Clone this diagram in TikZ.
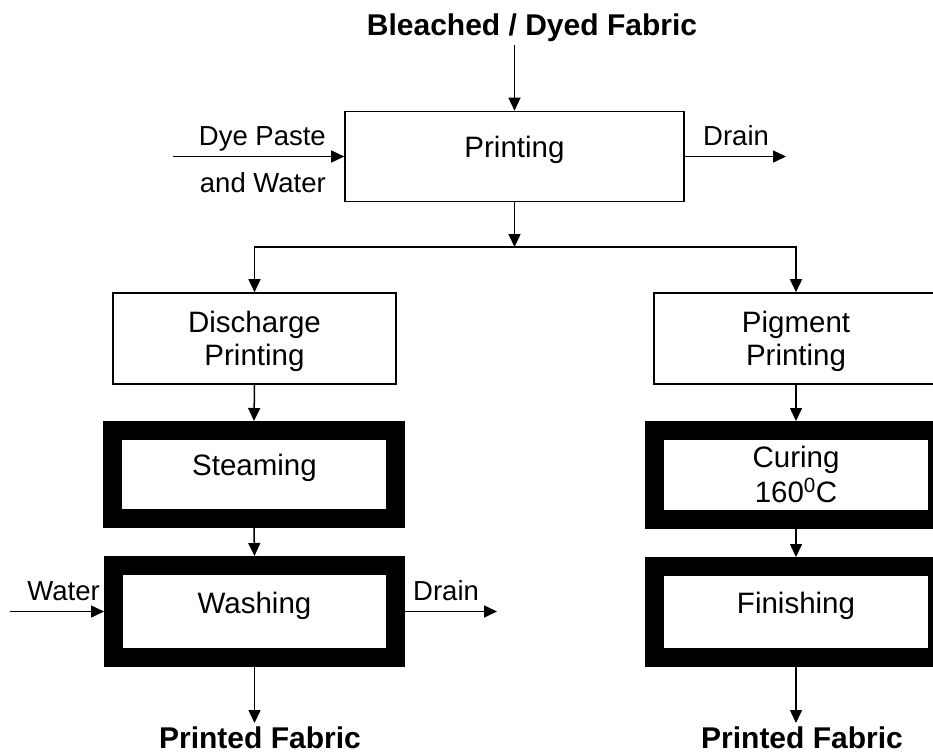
\documentclass[tikz,border=0pt]{standalone}
\usepackage{fontspec}
\setmainfont{Liberation Sans}
\usetikzlibrary{arrows.meta}

\begin{document}
\begin{tikzpicture}[x=1pt,y=-1pt,
  flow/.style={line width=1.5pt,-{Triangle[length=13pt,width=12pt]}},
  thinbox/.style={draw,line width=1.6pt,inner sep=0pt},
  heavybox/.style={draw,line width=19pt,inner sep=0pt},
  boxtext/.style={font=\fontsize{29.5}{33}\selectfont,anchor=base,inner sep=0pt},
  sidetext/.style={font=\fontsize{27.5}{31}\selectfont,inner sep=0pt},
  headtext/.style={font=\fontsize{30}{34}\selectfont\bfseries,anchor=base,inner sep=0pt}]
\useasboundingbox (0,0) rectangle (933,755);
\clip (0,0) rectangle (933,755);

% process boxes
\node[thinbox,minimum width=339pt,minimum height=90pt] (print) at (514.5,156.5) {};
\node[thinbox,minimum width=283pt,minimum height=91pt] (disch) at (254.5,338.5) {};
\node[thinbox,minimum width=320pt,minimum height=91pt] (pigm) at (814,338.5) {};
\node[heavybox,minimum width=283pt,minimum height=88pt] (steam) at (254,474.5) {};
\node[heavybox,minimum width=282pt,minimum height=92pt] (wash) at (254.5,611.5) {};
\node[heavybox,minimum width=283pt,minimum height=89pt] (cure) at (796,475) {};
\node[heavybox,minimum width=283pt,minimum height=91pt] (finish) at (796,612) {};

% box captions
\node[boxtext] at (514.5,157) {Printing};
\node[boxtext] at (254.5,332) {Discharge};
\node[boxtext] at (254.5,365) {Printing};
\node[boxtext] at (796,332) {Pigment};
\node[boxtext] at (796,365) {Printing};
\node[boxtext] at (254.5,475) {Steaming};
\node[boxtext] at (254.5,613) {Washing};
\node[boxtext] at (796,467) {Curing};
\node[boxtext] at (796,502) {160\textsuperscript{0}C};
\node[boxtext] at (796,613) {Finishing};

% inputs and outputs
\node[headtext] (src) at (532,35) {Bleached / Dyed Fabric};
\node[headtext] (outl) at (260,748) {Printed Fabric};
\node[headtext] (outr) at (802,748) {Printed Fabric};
\node[sidetext,anchor=base east] (dye) at (326,145) {Dye Paste};
\node[sidetext,anchor=base east] (dye2) at (326,192) {and Water};
\node[sidetext,anchor=base west] (drainA) at (703,145) {Drain};
\node[sidetext,anchor=base east] (water) at (100,600) {Water};
\node[sidetext,anchor=base west] (drainB) at (413,600) {Drain};

\coordinate (feed) at (514.5,45);
\coordinate (dyein) at (173,156.5);
\coordinate (drainAend) at (786,156.5);
\coordinate (split) at (514.5,247);
\coordinate (waterin) at (10,611.5);
\coordinate (drainBend) at (497,611.5);
\coordinate (outlend) at (254.5,723);
\coordinate (outrend) at (796,723);

% connectors
\draw[flow] (feed) -- (print.north);
\draw[flow] (dyein) -- (print.west);
\draw[flow] (print.east) -- (drainAend);
\draw[flow] (print.south) -- (split);
\draw[flow] (split) -| (disch.north);
\draw[flow] (split) -| (cure.north |- pigm.north);
\draw[flow] (disch.south) -- (steam.north);
\draw[flow] (steam.south) -- (wash.north);
\draw[flow] (waterin) -- (wash.west);
\draw[flow] (wash.east) -- (drainBend);
\draw[flow] (wash.south) -- (outlend);
\draw[flow] (cure.north |- pigm.south) -- (cure.north);
\draw[flow] (cure.south) -- (finish.north);
\draw[flow] (finish.south) -- (outrend);
\end{tikzpicture}
\end{document}
